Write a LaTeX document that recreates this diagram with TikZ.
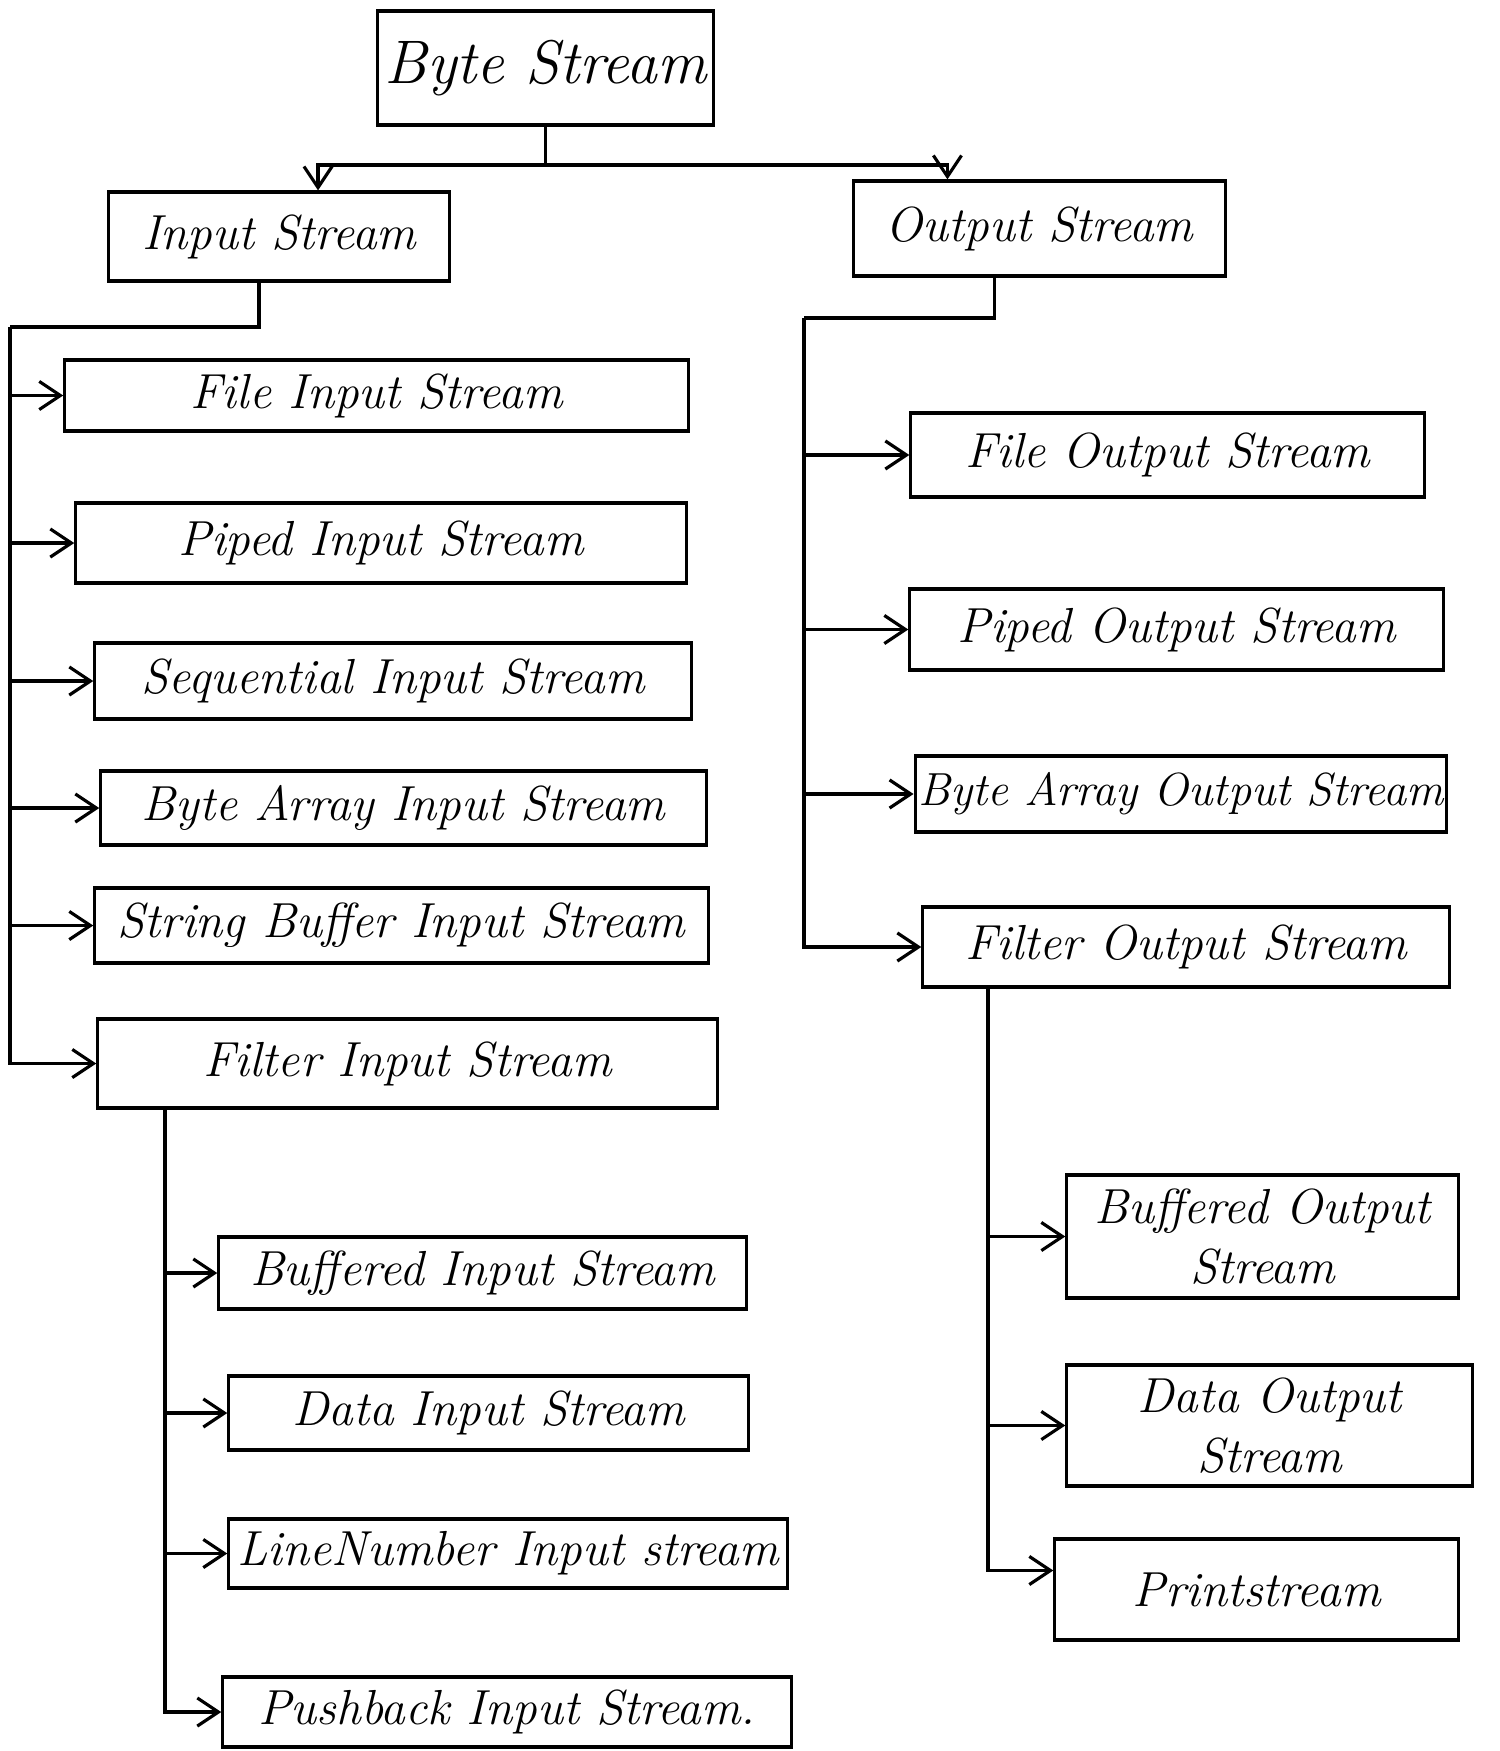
\documentclass[tikz,border=0pt]{standalone}
\usetikzlibrary{arrows.meta}
\begin{document}
\begin{tikzpicture}[x=0.01cm,y=-0.01cm,
  line width=0.9pt,
  box/.style={draw, rectangle, inner sep=1pt, font=\fontsize{14}{17}\selectfont\itshape},
  link/.style={-{Straight Barb[length=6pt,width=8pt]}}]
\useasboundingbox[fill=white] (0,0) rectangle (1500,1751);

% top level
\node[box, minimum width=3.35cm, minimum height=1.14cm, font=\fontsize{17.5}{21}\selectfont\itshape] (bs) at (545.5,68) {Byte Stream};
\node[box, minimum width=3.40cm, minimum height=0.89cm] (ins) at (279,236.5) {Input Stream};
\node[box, minimum width=3.71cm, minimum height=0.95cm] (outs) at (1039.5,228.5) {Output Stream};

% input stream subclasses
\node[box, minimum width=6.23cm, minimum height=0.71cm] (fis) at (376.5,395.5) {File Input Stream};
\node[box, minimum width=6.10cm, minimum height=0.80cm] (pis) at (381,543) {Piped Input Stream};
\node[box, minimum width=5.96cm, minimum height=0.76cm] (sis) at (393,681) {Sequential Input Stream};
\node[box, minimum width=6.05cm, minimum height=0.74cm] (bais) at (403.5,808) {Byte Array Input Stream};
\node[box, minimum width=6.13cm, minimum height=0.75cm] (sbis) at (401.5,925.5) {String Buffer Input Stream};
\node[box, minimum width=6.19cm, minimum height=0.89cm] (filis) at (407.5,1063.5) {Filter Input Stream};

% filter input stream subclasses
\node[box, minimum width=5.27cm, minimum height=0.72cm] (bufis) at (482.5,1273) {Buffered Input Stream};
\node[box, minimum width=5.19cm, minimum height=0.74cm] (dis) at (488.5,1413) {Data Input Stream};
\node[box, minimum width=5.58cm, minimum height=0.69cm] (lnis) at (508,1553.5) {LineNumber Input stream};
\node[box, minimum width=5.68cm, minimum height=0.70cm] (pbis) at (507,1712) {Pushback Input Stream.};

% output stream subclasses
\node[box, minimum width=5.13cm, minimum height=0.84cm] (fos) at (1167.5,455) {File Output Stream};
\node[box, minimum width=5.33cm, minimum height=0.81cm] (pos) at (1176.5,629.5) {Piped Output Stream};
\node[box, minimum width=5.30cm, minimum height=0.76cm, font=\fontsize{13.2}{16}\selectfont\itshape] (baos) at (1181,794) {Byte Array Output Stream};
\node[box, minimum width=5.26cm, minimum height=0.80cm] (filos) at (1186,947) {Filter Output Stream};

% filter output stream subclasses
\node[box, minimum width=3.91cm, minimum height=1.23cm, align=center] (bufos) at (1262.5,1236.5) {Buffered Output\\Stream};
\node[box, minimum width=4.05cm, minimum height=1.21cm, align=center] (dos) at (1269.5,1425.5) {Data Output\\Stream};
\node[box, minimum width=4.03cm, minimum height=1.01cm] (ps) at (1256.5,1589.5) {Printstream};

% byte stream split
\coordinate (bsj) at (bs.south |- 0,165);
\draw (bs.south) -- (bsj);
\draw[link] (bsj) -| ([xshift=0.39cm]ins.north);
\draw[link] (bsj) -| ([xshift=-0.92cm]outs.north);

% input stream branch
\coordinate (inj) at (10,327);
\draw ([xshift=-0.20cm]ins.south) |- (inj);
\draw[link] (inj) |- (filis.west);
\foreach \n in {fis,pis,sis,bais,sbis}
  \draw[link] (inj |- \n.west) -- (\n.west);

% output stream branch
\coordinate (outj) at (804,318);
\draw ([xshift=-0.45cm]outs.south) |- (outj);
\draw[link] (outj) |- (filos.west);
\foreach \n in {fos,pos,baos}
  \draw[link] (outj |- \n.west) -- (\n.west);

% filter input branch
\coordinate (fij) at (165,1108);
\draw[link] (fij) |- (pbis.west);
\foreach \n in {bufis,dis,lnis}
  \draw[link] (fij |- \n.west) -- (\n.west);

% filter output branch
\coordinate (foj) at (988,987);
\draw[link] (foj) |- ([yshift=0.19cm]ps.west);
\foreach \n in {bufos,dos}
  \draw[link] (foj |- \n.west) -- (\n.west);
\end{tikzpicture}
\end{document}
